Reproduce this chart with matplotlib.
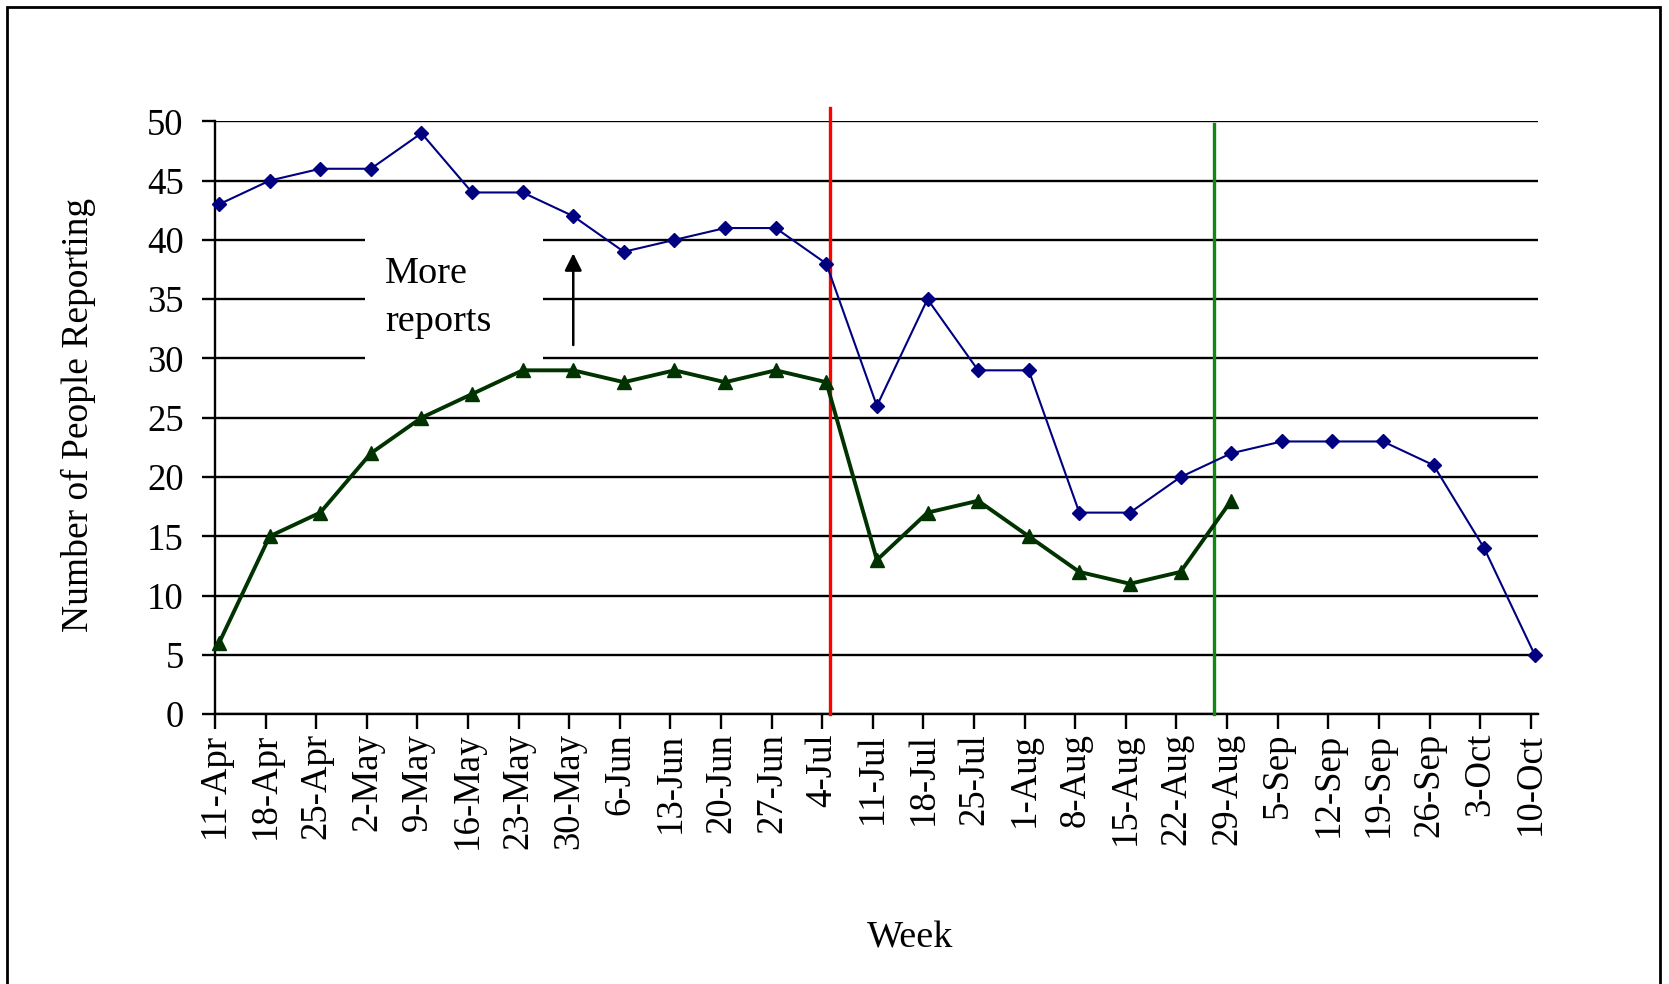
"""Weekly count of people reporting, two series, with event markers."""

import matplotlib.pyplot as plt
from matplotlib.patches import Rectangle

weeks = [
    "11-Apr", "18-Apr", "25-Apr", "2-May", "9-May", "16-May", "23-May", "30-May",
    "6-Jun", "13-Jun", "20-Jun", "27-Jun", "4-Jul", "11-Jul", "18-Jul", "25-Jul",
    "1-Aug", "8-Aug", "15-Aug", "22-Aug", "29-Aug", "5-Sep", "12-Sep", "19-Sep",
    "26-Sep", "3-Oct", "10-Oct",
]
blue_values = [43, 45, 46, 46, 49, 44, 44, 42, 39, 40, 41, 41, 38, 26, 35, 29,
               29, 17, 17, 20, 22, 23, 23, 23, 21, 14, 5]
green_values = [6, 15, 17, 22, 25, 27, 29, 29, 28, 29, 28, 29, 28, 13, 17, 18,
                15, 12, 11, 12, 18]
y_ticks = [0, 5, 10, 15, 20, 25, 30, 35, 40, 45, 50]

# event lines (in week-index units) and annotation
red_event_x = 12.07
green_event_x = 19.66
note_text = "More\nreports"

plt.rcParams["font.family"] = ["Liberation Serif", "DejaVu Serif"]

fig = plt.figure(figsize=(16.69, 9.84), dpi=100)
ax = fig.add_axes([0.1288, 0.2742, 0.7926, 0.6025])

x_blue = list(range(len(blue_values)))
x_green = list(range(len(green_values)))

ax.set_xlim(-0.08, 26.06)
ax.set_ylim(0, 50)
ax.set_yticks(y_ticks)
ax.set_xticks([i - 0.08 for i in range(len(weeks))])
ax.set_xticklabels(weeks, rotation=90, fontsize=26.5)
ax.tick_params(axis="y", labelsize=26.5, length=9.5, width=1.7, pad=13)
ax.tick_params(axis="x", length=10.5, width=1.7, pad=3)

for s in ["top", "right"]:
    ax.spines[s].set_visible(False)
for s in ["left", "bottom"]:
    ax.spines[s].set_linewidth(1.7)

ax.grid(True, axis="y", color="black", linewidth=1.7, zorder=1)
ax.set_axisbelow(True)

# white box behind the note, hides the gridlines
ax.add_patch(Rectangle((2.88, 29.4), 3.52, 11.2, facecolor="white",
                       edgecolor="none", zorder=1.5))
ax.text(3.28, 35.1, note_text, fontsize=27.5, ha="left", va="center",
        linespacing=1.5, zorder=2)
ax.annotate("", xy=(7, 39.1), xytext=(7, 30.9),
            arrowprops=dict(arrowstyle="-|>", color="black", lw=1.8,
                            mutation_scale=26), zorder=2)

ax.plot(x_blue, blue_values, color="#000080", linewidth=1.5, marker="D",
        markersize=7.5, zorder=4, clip_on=False)
ax.plot(x_green, green_values, color="#003300", linewidth=2.8, marker="^",
        markersize=10, zorder=4, clip_on=False)

ax.plot([red_event_x, red_event_x], [0, 51.1], color="#ff0000", linewidth=2.4,
        zorder=3, clip_on=False)
ax.plot([green_event_x, green_event_x], [0, 49.75], color="#118811",
        linewidth=2.4, zorder=3, clip_on=False)

fig.text(0.0467, 0.578, "Number of People Reporting", rotation=90, fontsize=27,
         ha="center", va="center")
fig.text(0.545, 0.046, "Week", fontsize=27.5, ha="center", va="center")

fig.patches.append(Rectangle((7 / 1669, -0.05), (1660 - 7) / 1669, 1.05 - 7 / 984,
                             transform=fig.transFigure, fill=False,
                             edgecolor="black", linewidth=2))

fig.savefig("out.png", dpi=100)
